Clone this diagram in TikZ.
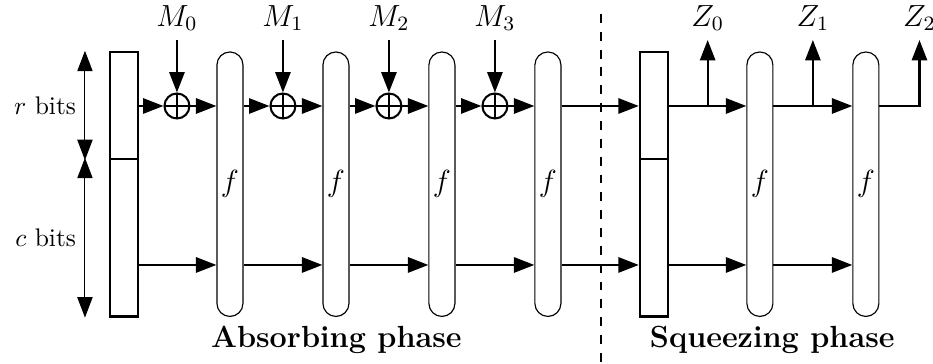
\documentclass[tikz,border=0pt]{standalone}
\usepackage{tikz}
\usetikzlibrary{arrows.meta,positioning,calc}

\tikzset{
  % --- state and permutation blocks ---------------------------------------
  statebox/.style  = {draw, line width=0.9pt, minimum width=3.86mm, inner sep=0pt},
  perm/.style      = {draw, line width=0.45pt, rounded corners=1.79mm, font=\large,
                      minimum width=3.59mm, minimum height=36.48mm, inner sep=0pt},
  xorop/.style     = {circle, draw, line width=0.8pt, minimum size=3.45mm, inner sep=0pt,
                      path picture={
                        \draw[line width=0.8pt]
                          (path picture bounding box.north) -- (path picture bounding box.south)
                          (path picture bounding box.west) -- (path picture bounding box.east);}},
  % --- connectors ----------------------------------------------------------
  flow/.style      = {line width=0.8pt, -{Triangle[length=8pt,width=6pt]}},
  dimline/.style   = {line width=0.4pt,
                      {Triangle[length=8pt,width=6pt]}-{Triangle[length=8pt,width=6pt]}},
  phaseline/.style = {line width=0.8pt, dash pattern=on 3.5pt off 3.5pt},
  % --- labels --------------------------------------------------------------
  iolbl/.style     = {anchor=south, inner sep=3.5pt, font=\large},
  phaselbl/.style  = {font=\large\bfseries, anchor=base},
}

\begin{document}
\begin{tikzpicture}
\useasboundingbox (0,0) rectangle (12.87,5.02);

% ------------------------------ levels -------------------------------------
\coordinate (rlev) at (0,3.558);
\coordinate (clev) at (0,1.365);
\coordinate (ytop) at (0,4.468);
\coordinate (dim)  at (1.172,0);

% ------------------------------ states -------------------------------------
\node[statebox, minimum height=14.76mm] (s0r) at (1.710,3.565) {};
\node[statebox, minimum height=21.72mm] (s0c) at (1.710,1.741) {};
\node[statebox, minimum height=14.76mm] (s1r) at (9.020,3.565) {};
\node[statebox, minimum height=21.72mm] (s1c) at (9.020,1.741) {};

% --------------------------- permutations ----------------------------------
\foreach \i/\x in {1/3.172, 2/4.634, 3/6.096, 4/7.558, 5/10.482, 6/11.944}
  \node[perm] (f\i) at (\x,2.479) {$f$};

% ------------------------- absorbing inputs --------------------------------
\foreach \i/\x in {0/2.441, 1/3.903, 2/5.365, 3/6.827}{
  \node[xorop] (x\i) at (\x,3.558) {};
  \node[iolbl] (m\i) at (\x,4.468) {$M_\i$};
}

% ------------------------- squeezing outputs -------------------------------
\coordinate (t0) at ($(s1r.east |- rlev)!0.5!(f5.west |- rlev)$);
\coordinate (t1) at ($(f5.east |- rlev)!0.5!(f6.west |- rlev)$);
\coordinate (t2) at ($(f6.east |- rlev)+(0.552,0)$);
\foreach \i in {0,1,2}
  \node[iolbl] (z\i) at (t\i |- ytop) {$Z_\i$};

% ------------------------------- flow --------------------------------------
\draw[flow] (s0r.east |- rlev) -- (x0);
\foreach \a/\b in {x0/f1, x1/f2, x2/f3, x3/f4}{ \draw[flow] (\a) -- (\b.west |- rlev); }
\foreach \a/\b in {f1/x1, f2/x2, f3/x3}{ \draw[flow] (\a.east |- rlev) -- (\b); }
\foreach \a/\b in {f4/s1r, s1r/f5, f5/f6}{ \draw[flow] (\a.east |- rlev) -- (\b.west |- rlev); }
\draw[flow] (f6.east |- rlev) -- (t2) -- (z2);
\foreach \a/\b in {s0c/f1, f1/f2, f2/f3, f3/f4, f4/s1c, s1c/f5, f5/f6}{
  \draw[flow] (\a.east |- clev) -- (\b.west |- clev); }
\foreach \i in {0,...,3}{ \draw[flow] (m\i) -- (x\i); }
\foreach \i in {0,1}{ \draw[flow] (t\i) -- (z\i); }

% ----------------------------- sizes ---------------------------------------
\draw[dimline] (dim |- s0r.north) -- node[left] {$r$ bits} (dim |- s0r.south);
\draw[dimline] (dim |- s0c.north) -- node[left] {$c$ bits} (dim |- s0c.south);

% ----------------------------- phases --------------------------------------
\coordinate (divtop) at (8.284,4.827);
\coordinate (divbot) at (8.284,0);
\draw[phaseline] (divtop) -- (divbot);
\node[phaselbl] (absorb)  at (4.640,0.221) {Absorbing phase};
\node[phaselbl] (squeeze) at (10.653,0.221) {Squeezing phase};

\end{tikzpicture}
\end{document}
